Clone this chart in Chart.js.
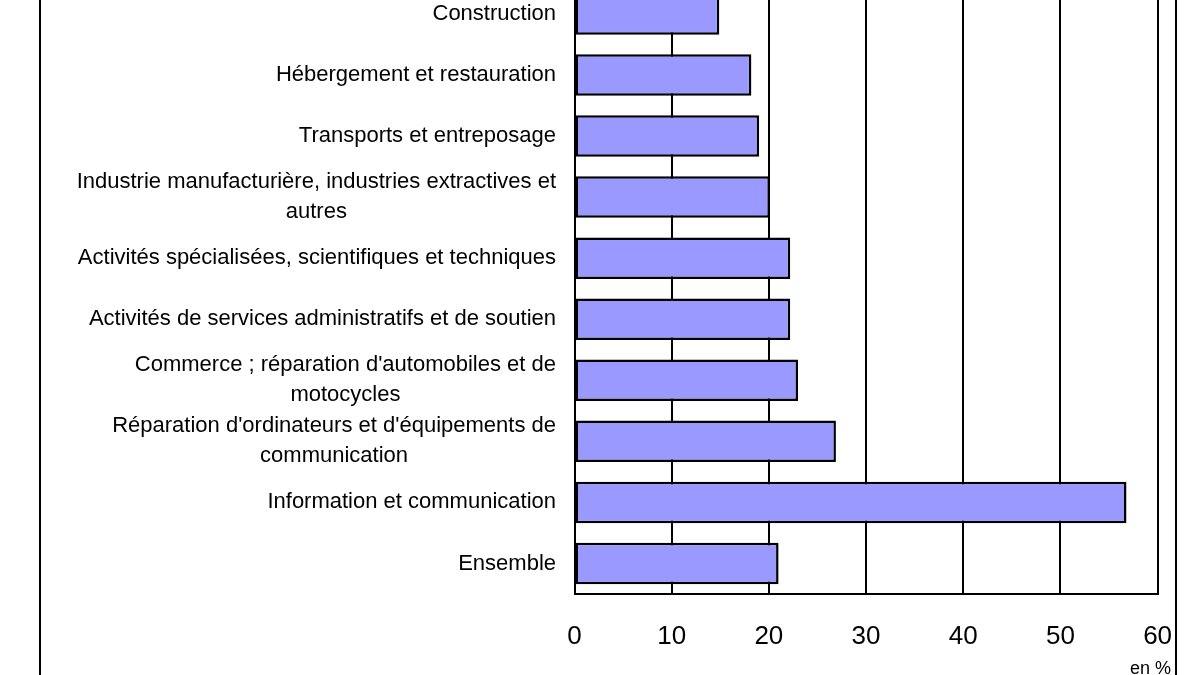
<!DOCTYPE html>
<html>
<head>
<meta charset="utf-8">
<script src="https://cdn.jsdelivr.net/npm/chart.js@4.4.1/dist/chart.umd.min.js"></script>
<style>
  html, body { margin: 0; padding: 0; background: #fff; overflow: hidden; }
  #wrap { position: absolute; left: 0; top: -40px; width: 1200px; height: 760px; }
</style>
</head>
<body>
<div id="wrap"><canvas id="c" width="1200" height="760"></canvas></div>
<script>
const categories = [
  ["Construction"],
  ["Hébergement et restauration"],
  ["Transports et entreposage"],
  ["Industrie manufacturière, industries extractives et", "autres"],
  ["Activités spécialisées, scientifiques et techniques"],
  ["Activités de services administratifs et de soutien"],
  ["Commerce ; réparation d'automobiles et de", "motocycles"],
  ["Réparation d'ordinateurs et d'équipements de", "communication"],
  ["Information et communication"],
  ["Ensemble"]
];
const values = [14.9, 18.2, 19.0, 20.1, 22.2, 22.2, 23.0, 26.9, 56.8, 21.0];
const xTicks = [0, 10, 20, 30, 40, 50, 60];
const unitLabel = "en %";

const OFF = 40; // canvas offset above page top

const labelPlugin = {
  id: 'labels',
  afterDraw(chart) {
    const ctx = chart.ctx;
    const y = chart.scales.y;
    ctx.save();
    ctx.fillStyle = '#000';
    ctx.font = '22px "Liberation Sans", Arial, sans-serif';
    ctx.textBaseline = 'middle';
    const rightX = 556;
    const lh = 30;
    categories.forEach((lines, i) => {
      const cy = y.getPixelForTick(i);
      if (lines.length === 1) {
        ctx.textAlign = 'right';
        ctx.fillText(lines[0], rightX, cy);
      } else {
        const w = Math.max(...lines.map(l => ctx.measureText(l).width));
        const cx = rightX - w / 2;
        ctx.textAlign = 'center';
        const y0 = cy - (lines.length - 1) * lh / 2;
        lines.forEach((l, k) => ctx.fillText(l, cx, y0 + k * lh));
      }
    });
    // unit label
    ctx.font = '18px "Liberation Sans", Arial, sans-serif';
    ctx.textAlign = 'right';
    ctx.fillText(unitLabel, 1171, 669 + OFF);
    // outer frame
    ctx.strokeStyle = '#000';
    ctx.lineWidth = 2;
    ctx.strokeRect(40, 3, 1136, 750);
    ctx.restore();
  }
};

new Chart(document.getElementById('c'), {
  type: 'bar',
  data: {
    labels: categories,
    datasets: [{
      data: values,
      backgroundColor: '#9999FF',
      borderColor: '#000000',
      borderWidth: 2.5,
      borderSkipped: false,
      categoryPercentage: 1,
      barPercentage: 0.68
    }]
  },
  options: {
    indexAxis: 'y',
    responsive: false,
    animation: false,
    devicePixelRatio: 1,
    layout: { padding: { top: 23.4, right: 42.4, bottom: 66, left: 0 } },
    plugins: { legend: { display: false }, tooltip: { enabled: false } },
    scales: {
      x: {
        min: 0, max: 60,
        afterBuildTicks(scale) { scale.ticks = xTicks.map(v => ({ value: v })); },
        afterFit(scale) { scale.height = 60; },
        grid: { color: '#000', lineWidth: 2, drawTicks: false },
        border: { color: '#000', width: 2 },
        ticks: {
          color: '#000',
          padding: 27,
          font: { family: '"Liberation Sans", Arial, sans-serif', size: 26 }
        }
      },
      y: {
        afterFit(scale) { scale.width = 574.5; },
        grid: { display: false },
        border: { color: '#000', width: 2 },
        ticks: { display: false }
      }
    }
  },
  plugins: [labelPlugin]
});
</script>
</body>
</html>
